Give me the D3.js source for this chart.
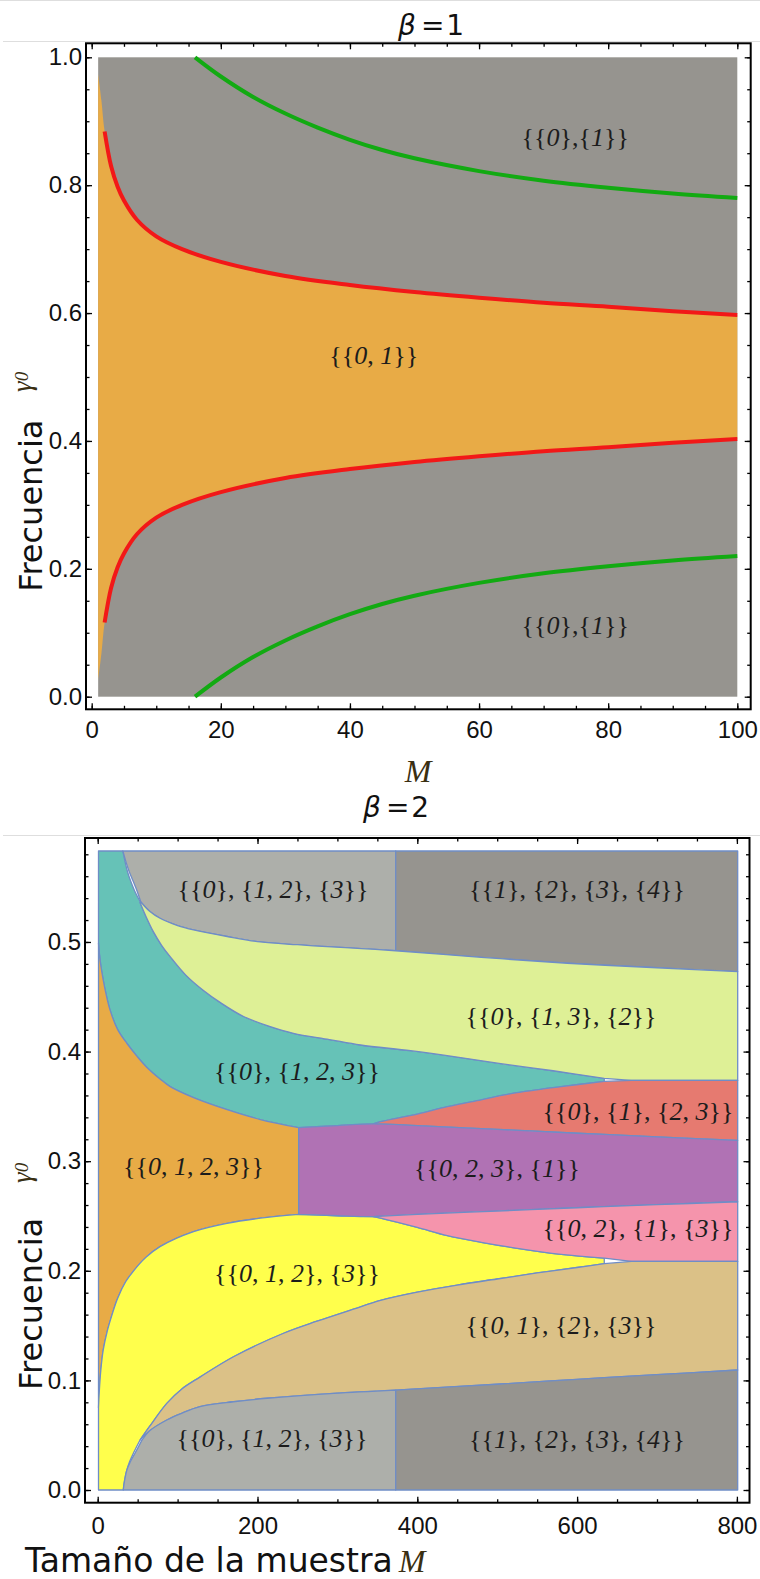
<!DOCTYPE html>
<html>
<head>
<meta charset="utf-8">
<script src="https://cdn.jsdelivr.net/npm/d3@7"></script>
<style>
  body { margin: 0; background: #fff; }
  svg { display: block; }
  text { white-space: pre; }
</style>
</head>
<body>
<svg id="chart" width="760" height="1579"></svg>
<script>
// ---------------- β = 1 panel data ----------------
// boundary of the {{0,1}} region (upper / lower), sampled along M
const b1M      = [1, 1.5, 2, 3, 4, 5, 7, 10, 14, 20, 30, 40, 50, 60, 70, 80, 90, 100];
const b1Upper  = [0.974, 0.933, 0.884, 0.830, 0.798, 0.776, 0.746, 0.720, 0.700, 0.680, 0.658, 0.644, 0.633, 0.624, 0.616, 0.610, 0.603, 0.597];
const b1Lower  = [0.026, 0.067, 0.116, 0.170, 0.202, 0.224, 0.254, 0.280, 0.300, 0.320, 0.342, 0.356, 0.367, 0.376, 0.384, 0.390, 0.397, 0.403];
const b1RedStart = 2;                         // red curves are drawn from M = 2
// green curves
const b1GreenM     = [16, 20, 25, 30, 35, 40, 45, 50, 60, 70, 80, 90, 100];
const b1GreenUpper = [1.000, 0.970, 0.938, 0.912, 0.890, 0.871, 0.855, 0.842, 0.822, 0.807, 0.796, 0.787, 0.780];
const b1GreenLower = [0.000, 0.030, 0.062, 0.088, 0.110, 0.129, 0.145, 0.158, 0.178, 0.193, 0.204, 0.213, 0.220];
// region labels
const b1LabelText = ["{{0},{1}}", "{{0, 1}}", "{{0},{1}}"];
const b1LabelM    = [74.9, 43.7, 74.9];
const b1LabelY    = [0.861, 0.520, 0.098];
// ticks
const b1XMajor = [0, 20, 40, 60, 80, 100];
const b1YMajor = [0, 0.2, 0.4, 0.6, 0.8, 1.0];

// ---------------- β = 2 panel data ----------------
const b2YTop = 0.583;
const b2MStart = 1, b2MEnd = 801, b2Split = 373;
const edgeTealGray = [[31.5,0.583],[34,0.574],[37,0.565],[41,0.556],[46,0.547],[53,0.537]];
const edgeGrayLeft = [[31.5,0.583],[35,0.574],[39,0.565],[44,0.556],[49,0.547],[54,0.5365]];
const edgeGY = [[54,0.5365],[65,0.528],[78,0.5216],[100,0.515],[120,0.511],[162,0.505],[203.5,0.500],[250,0.4975],[287,0.4957],[330,0.494],[373,0.492]];
const edgeDY = [[373,0.492],[480,0.486],[588,0.4806],[700,0.4765],[801,0.473]];
const edgeTY = [[53,0.536],[60,0.524],[70,0.509],[80,0.497],[90.7,0.4866],[110,0.470],[132,0.456],[155,0.444],[182.6,0.432],[215,0.423],[245,0.4167],[290,0.411],[329,0.406],[391.6,0.4008],[450,0.395],[504.5,0.389],[570,0.3825],[634,0.3756]];
const edgeOT = [[1,0.499],[2,0.490],[4,0.478],[7,0.465],[10,0.454],[15.4,0.438],[25,0.420],[36.4,0.4076],[50,0.395],[61,0.386],[78,0.375],[90.7,0.368],[120,0.358],[162,0.347],[203.5,0.338],[251.5,0.3306]];
const edgeOY = [[1,0.075],[2,0.090],[4,0.110],[7,0.128],[12,0.145],[18,0.160],[25,0.175],[35,0.190],[45,0.200],[60,0.212],[78,0.222],[120,0.2357],[162,0.2433],[203.5,0.248],[251.5,0.2515]];
const edgePT = [[251.5,0.3306],[300,0.3325],[345,0.334],[400,0.3325],[500,0.329],[600,0.3255],[700,0.3222],[801,0.319]];
const edgePB = [[251.5,0.2515],[300,0.2502],[345,0.2494],[400,0.2515],[500,0.2545],[600,0.2575],[700,0.2603],[801,0.263]];
const edgeTR = [[345,0.334],[354,0.336],[400,0.343],[437.6,0.3497],[480,0.356],[521,0.362],[580,0.368],[634,0.3728]];
const edgeYP = [[345,0.2494],[354,0.248],[400,0.2395],[437.6,0.232],[480,0.226],[521,0.221],[580,0.215],[634,0.2115]];
const edgeYT = [[53,0.0456],[65,0.058],[86.5,0.079],[105,0.092],[128,0.103],[170,0.1216],[232.7,0.143],[274.6,0.154],[320,0.165],[354,0.173],[400,0.1805],[450,0.187],[500,0.1925],[550,0.198],[600,0.203],[634,0.2065]];
const edgeTG = [[53,0.0456],[65,0.054],[86.5,0.0639],[105,0.070],[128,0.076],[170,0.0805],[212,0.0837],[295.4,0.0882],[373,0.0912],[500,0.0965],[600,0.101],[700,0.1052],[801,0.1095]];
const edgeYG = [[32,0],[33.5,0.008],[36.4,0.018],[40,0.026],[44.6,0.0335],[53,0.0456]];
const edgeGrayBL = [[32,0],[33.5,0.008],[36.4,0.018],[41,0.026],[47,0.034],[55,0.045]];
const tipM = [634, 668];                 // where the narrow wedges close
const levelRedTop = 0.3737, levelPinkBottom = 0.2085;

const b2LabelText = ["{{0}, {1, 2}, {3}}", "{{1}, {2}, {3}, {4}}", "{{0}, {1, 3}, {2}}", "{{0}, {1, 2, 3}}",
                     "{{0}, {1}, {2, 3}}", "{{0, 1, 2, 3}}", "{{0, 2, 3}, {1}}", "{{0, 2}, {1}, {3}}",
                     "{{0, 1, 2}, {3}}", "{{0, 1}, {2}, {3}}", "{{0}, {1, 2}, {3}}", "{{1}, {2}, {3}, {4}}"];
const b2LabelM = [219.4, 599.9, 579.8, 249.4, 676.2, 119.9, 499.7, 676.2, 249.4, 579.8, 218.2, 599.9];
const b2LabelY = [0.540, 0.540, 0.4243, 0.3741, 0.3376, 0.2874, 0.2856, 0.2308, 0.1898, 0.1423, 0.0392, 0.0383];
const b2XMajor = [0, 200, 400, 600, 800];
const b2YMajor = [0, 0.1, 0.2, 0.3, 0.4, 0.5];

const colors = {
  gray: "#96948f", lightgray: "#adafaa", orange: "#e8ab46", teal: "#66c2b7",
  lightyellow: "#def096", red: "#e67a70", purple: "#b072b4", pink: "#f594ac",
  yellow: "#ffff4c", tan: "#dbc187", edge: "#6f8dc6", redLine: "#f21818", greenLine: "#12aa12"
};

const svg = d3.select("#chart");

// thin page rules
[[0.5, 0], [41.5, 3], [835.5, 3]].forEach(([yy, x0]) =>
  svg.append("line").attr("x1", x0).attr("x2", 760).attr("y1", yy).attr("y2", yy)
     .attr("stroke", "#dedede").attr("stroke-width", 1.2));

// ---------- helpers ----------
function regionLabel(g, str, x, y) {
  const t = g.append("text").attr("x", x).attr("y", y).attr("text-anchor", "middle")
    .attr("font-family", "'Liberation Serif', 'DejaVu Serif', serif").attr("font-size", 26)
    .attr("fill", "#1c1c1c");
  str.split(/(\d)/).filter(s => s.length).forEach(s =>
    t.append("tspan").attr("font-style", /\d/.test(s) ? "italic" : "normal").text(s));
}

function frameAxes(g, x, y, frame, xMajor, xMinor, yMajor, yMinor, xFmt, yFmt, xPad) {
  const [L, T, R, B] = frame;
  const tickFont = "'Liberation Sans', Arial, sans-serif";
  const style = sel => {
    sel.select(".domain").remove();
    sel.selectAll(".tick line").attr("stroke", "#000").attr("stroke-width", 1.3);
    sel.selectAll("text").attr("font-family", tickFont).attr("font-size", 24).attr("fill", "#111");
  };
  // labelled major ticks
  g.append("g").attr("transform", `translate(${L},0)`)
    .call(d3.axisLeft(y).tickValues(yMajor).tickSizeInner(-6).tickSizeOuter(0).tickPadding(4).tickFormat(yFmt)).call(style);
  g.append("g").attr("transform", `translate(0,${B})`)
    .call(d3.axisBottom(x).tickValues(xMajor).tickSizeInner(-6).tickSizeOuter(0).tickPadding(xPad).tickFormat(xFmt)).call(style);
  // mirrored major ticks
  g.append("g").attr("transform", `translate(${R},0)`)
    .call(d3.axisRight(y).tickValues(yMajor).tickSizeInner(-6).tickSizeOuter(0).tickFormat("")).call(style);
  g.append("g").attr("transform", `translate(0,${T})`)
    .call(d3.axisTop(x).tickValues(xMajor).tickSizeInner(-6).tickSizeOuter(0).tickFormat("")).call(style);
  // minor ticks on all four sides
  g.append("g").attr("transform", `translate(${L},0)`)
    .call(d3.axisLeft(y).tickValues(yMinor).tickSizeInner(-3.5).tickSizeOuter(0).tickFormat("")).call(style);
  g.append("g").attr("transform", `translate(${R},0)`)
    .call(d3.axisRight(y).tickValues(yMinor).tickSizeInner(-3.5).tickSizeOuter(0).tickFormat("")).call(style);
  g.append("g").attr("transform", `translate(0,${B})`)
    .call(d3.axisBottom(x).tickValues(xMinor).tickSizeInner(-3.5).tickSizeOuter(0).tickFormat("")).call(style);
  g.append("g").attr("transform", `translate(0,${T})`)
    .call(d3.axisTop(x).tickValues(xMinor).tickSizeInner(-3.5).tickSizeOuter(0).tickFormat("")).call(style);
  // frame
  g.append("rect").attr("x", L).attr("y", T).attr("width", R - L).attr("height", B - T)
    .attr("fill", "none").attr("stroke", "#000").attr("stroke-width", 2);
}

function yLabel(g, xBase, yStart, gammaStart) {
  g.append("text").attr("transform", `translate(${xBase},${yStart}) rotate(-90)`)
    .attr("font-family", "'DejaVu Sans', sans-serif").attr("font-size", 32).attr("fill", "#111")
    .text("Frecuencia");
  const t = g.append("text").attr("transform", `translate(${xBase - 11},${gammaStart}) rotate(-90)`)
    .attr("font-family", "'Liberation Serif', serif").attr("font-style", "italic").attr("fill", "#3a2f12");
  t.append("tspan").attr("font-size", 27).text("γ");
  t.append("tspan").attr("font-size", 19).attr("dy", -3).text("0");
}

function title(g, x, y, digit) {
  const t = g.append("text").attr("x", x).attr("y", y)
    .attr("font-family", "'DejaVu Sans', sans-serif").attr("font-size", 28).attr("fill", "#111");
  t.append("tspan").attr("font-style", "italic").text("β");
  t.append("tspan").attr("dx", 5).text("=");
  t.append("tspan").attr("dx", 2).text(digit);
}

// ================= β = 1 =================
{
  const g = svg.append("g");
  const x = d3.scaleLinear().domain([0, 100]).range([91.7, 737.3]);
  const y = d3.scaleLinear().domain([0, 1]).range([696.7, 57.3]);
  const frame = [86, 43.3, 750.7, 709.3];

  // {{0},{1}} background region
  g.append("rect").attr("x", x(b1M[0])).attr("y", y(1)).attr("width", x(100) - x(b1M[0]))
    .attr("height", y(0) - y(1)).attr("fill", colors.gray);

  // {{0,1}} region
  const rows = b1M.map((m, i) => ({ m, lo: b1Lower[i], hi: b1Upper[i] }));
  g.append("path").datum(rows).attr("fill", colors.orange)
    .attr("d", d3.area().x(d => x(d.m)).y0(d => y(d.lo)).y1(d => y(d.hi)).curve(d3.curveCatmullRom.alpha(0.5)));

  const line = d3.line().x(d => x(d[0])).y(d => y(d[1])).curve(d3.curveCatmullRom.alpha(0.5));
  const redRows = rows.filter(d => d.m >= b1RedStart);
  [redRows.map(d => [d.m, d.hi]), redRows.map(d => [d.m, d.lo])].forEach(pts =>
    g.append("path").attr("d", line(pts)).attr("fill", "none").attr("stroke", colors.redLine).attr("stroke-width", 4));
  [b1GreenUpper, b1GreenLower].forEach(vals =>
    g.append("path").attr("d", line(b1GreenM.map((m, i) => [m, vals[i]])))
      .attr("fill", "none").attr("stroke", colors.greenLine).attr("stroke-width", 4));

  b1LabelText.forEach((s, i) => regionLabel(g, s, x(b1LabelM[i]), y(b1LabelY[i])));

  frameAxes(g, x, y, frame, b1XMajor, d3.range(0, 101, 5), b1YMajor, d3.range(0, 1.0001, 0.05),
    d3.format("d"), d3.format(".1f"), 12);

  title(g, 398, 35, "1");
  yLabel(g, 42, 591.7, 392);
  g.append("text").attr("x", 418).attr("y", 782).attr("text-anchor", "middle")
    .attr("font-family", "'Liberation Serif', serif").attr("font-style", "italic").attr("font-size", 32)
    .attr("fill", "#3a2f12").text("M");
}

// ================= β = 2 =================
{
  const g = svg.append("g");
  const x = d3.scaleLinear().domain([0, 800]).range([97.7, 736.9]);
  const y = d3.scaleLinear().domain([0, b2YTop]).range([1490, 851]);
  const frame = [85, 838, 749.5, 1502.7];

  const smooth = d3.line().x(d => x(d[0])).y(d => y(d[1])).curve(d3.curveCatmullRom.alpha(0.5));
  const straight = d3.line().x(d => x(d[0])).y(d => y(d[1]));
  const rev = a => a.slice().reverse();
  const part = (a, lo, hi) => a.filter(p => p[0] >= lo && p[0] <= hi);
  const region = edges => edges.map((e, i) => {
    const s = (e.length > 2 ? smooth : straight)(e);
    return i === 0 ? s : s.replace(/^M/, "L");
  }).join("") + "Z";

  const [t0, t1] = tipM;
  const regions = [
    { c: colors.teal, e: [
      [[b2MStart, b2YTop], edgeTealGray[0]], edgeTealGray, edgeTY,
      [edgeTY[edgeTY.length - 1], edgeTR[edgeTR.length - 1]], rev(edgeTR),
      rev(part(edgePT, 251.5, 345)), rev(edgeOT), [edgeOT[0], [b2MStart, b2YTop]] ] },
    { c: colors.orange, e: [
      edgeOT, [edgeOT[edgeOT.length - 1], edgeOY[edgeOY.length - 1]], rev(edgeOY), [edgeOY[0], edgeOT[0]] ] },
    { c: colors.yellow, e: [
      edgeOY, part(edgePB, 251.5, 345), edgeYP,
      [edgeYP[edgeYP.length - 1], edgeYT[edgeYT.length - 1]], rev(edgeYT), rev(edgeYG),
      [edgeYG[0], [b2MStart, 0]], [[b2MStart, 0], edgeOY[0]] ] },
    { c: colors.lightgray, e: [
      edgeGrayLeft, edgeGY, [[b2Split, edgeGY[edgeGY.length - 1][1]], [b2Split, b2YTop]],
      [[b2Split, b2YTop], edgeGrayLeft[0]] ] },
    { c: colors.gray, e: [
      [[b2Split, b2YTop], edgeDY[0]], edgeDY, [edgeDY[edgeDY.length - 1], [b2MEnd, b2YTop]],
      [[b2MEnd, b2YTop], [b2Split, b2YTop]] ] },
    { c: colors.lightyellow, e: [
      [edgeTY[0], edgeGY[0]], edgeGY, edgeDY, [edgeDY[edgeDY.length - 1], [b2MEnd, levelRedTop]],
      [[b2MEnd, levelRedTop], [t1, levelRedTop]], [[t1, levelRedTop], edgeTY[edgeTY.length - 1]], rev(edgeTY) ] },
    { c: colors.red, e: [
      edgeTR, [edgeTR[edgeTR.length - 1], [t1, levelRedTop]], [[t1, levelRedTop], [b2MEnd, levelRedTop]],
      [[b2MEnd, levelRedTop], edgePT[edgePT.length - 1]], rev(part(edgePT, 345, b2MEnd)) ] },
    { c: colors.purple, e: [
      edgePT, [edgePT[edgePT.length - 1], edgePB[edgePB.length - 1]], rev(edgePB),
      [edgePB[0], edgePT[0]] ] },
    { c: colors.pink, e: [
      part(edgePB, 345, b2MEnd), [edgePB[edgePB.length - 1], [b2MEnd, levelPinkBottom]],
      [[b2MEnd, levelPinkBottom], [t1, levelPinkBottom]], [[t1, levelPinkBottom], edgeYP[edgeYP.length - 1]], rev(edgeYP) ] },
    { c: colors.tan, e: [
      edgeYT, [edgeYT[edgeYT.length - 1], [t1, levelPinkBottom]], [[t1, levelPinkBottom], [b2MEnd, levelPinkBottom]],
      [[b2MEnd, levelPinkBottom], edgeTG[edgeTG.length - 1]], rev(edgeTG) ] },
    { c: colors.lightgray, e: [
      edgeGrayBL, [edgeGrayBL[edgeGrayBL.length - 1], ...part(edgeTG, 56, b2Split)],
      [[b2Split, edgeTG.find(p => p[0] === b2Split)[1]], [b2Split, 0]], [[b2Split, 0], edgeGrayBL[0]] ] },
    { c: colors.gray, e: [
      [[b2Split, 0], [b2Split, edgeTG.find(p => p[0] === b2Split)[1]]], part(edgeTG, b2Split, b2MEnd),
      [edgeTG[edgeTG.length - 1], [b2MEnd, 0]], [[b2MEnd, 0], [b2Split, 0]] ] }
  ];

  g.selectAll("path.region").data(regions).join("path").attr("class", "region")
    .attr("d", d => region(d.e)).attr("fill", d => d.c)
    .attr("stroke", colors.edge).attr("stroke-width", 1.3).attr("stroke-linejoin", "round");

  b2LabelText.forEach((s, i) => regionLabel(g, s, x(b2LabelM[i]), y(b2LabelY[i])));

  frameAxes(g, x, y, frame, b2XMajor, d3.range(0, 801, 50), b2YMajor, d3.range(0, 0.5801, 0.02),
    d3.format("d"), d3.format(".1f"), 14);

  title(g, 363, 817, "2");
  yLabel(g, 42, 1390, 1183);
  const xl = g.append("text").attr("x", 25).attr("y", 1572).attr("fill", "#111");
  xl.append("tspan").attr("font-family", "'DejaVu Sans', sans-serif").attr("font-size", 33).text("Tamaño de la muestra");
  xl.append("tspan").attr("dx", 6).attr("font-family", "'Liberation Serif', serif").attr("font-style", "italic")
    .attr("font-size", 32).attr("fill", "#3a2f12").text("M");
}
</script>
</body>
</html>
